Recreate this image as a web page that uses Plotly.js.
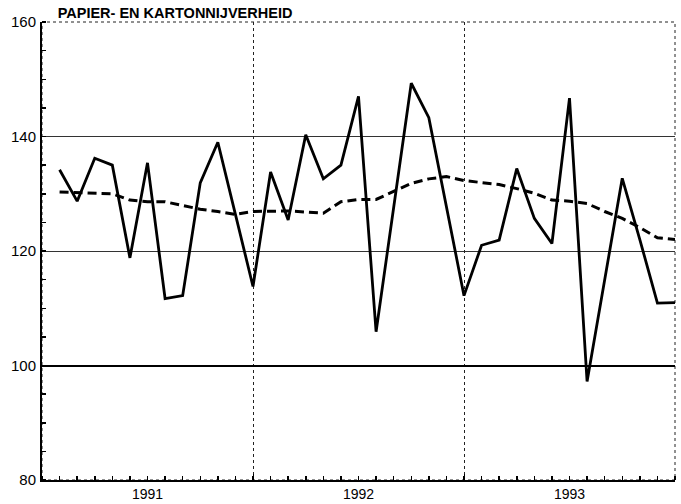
<!DOCTYPE html>
<html>
<head>
<meta charset="utf-8">
<script src="https://cdn.plot.ly/plotly-3.0.1.min.js"></script>
<style>
  html, body { margin: 0; padding: 0; background: #fff; }
  #plot { width: 681px; height: 504px; }
</style>
</head>
<body>
<div id="plot"></div>
<script>
// months 1..36 (jan 1991 .. dec 1993)
var months = [];
for (var m = 1; m <= 36; m++) months.push(m);

// index, papier- en kartonnijverheid
var actual = [134.2, 128.7, 136.2, 135.0, 118.8, 135.4, 111.7, 112.2, 131.9, 139.0, 126.4, 113.8,
              133.8, 125.4, 140.3, 132.6, 135.0, 147.0, 105.9, 127.6, 149.3, 143.3, 128.0, 112.2,
              121.0, 121.9, 134.4, 125.7, 121.3, 146.7, 97.2, 115.0, 132.7, 122.0, 110.9, 111.0];

// trend
var trend = [130.3, 130.2, 130.0, 130.0, 128.9, 128.6, 128.6, 128.0, 127.3, 126.9, 126.4, 126.9,
             127.0, 127.0, 126.8, 126.6, 128.6, 129.0, 129.0, 130.4, 131.8, 132.6, 133.0, 132.3,
             131.9, 131.6, 130.9, 130.1, 128.9, 128.7, 128.3, 126.9, 125.7, 124.1, 122.3, 122.0];

var yearLabels = ['1991', '1992', '1993'];
var yearCenters = [6, 18, 30];
var yearBounds = [0, 12, 24, 36];
var baseline = [100];

var trace1 = {
  x: months,
  y: trend,
  mode: 'lines',
  type: 'scatter',
  line: { color: '#000', width: 3, dash: '9px,5px' },
  hoverinfo: 'skip'
};

var trace2 = {
  x: months,
  y: actual,
  mode: 'lines',
  type: 'scatter',
  line: { color: '#000', width: 2.8 },
  hoverinfo: 'skip'
};

// empty trace so the secondary axes (year gridlines, 100 line) get drawn
var trace3 = { x: [], y: [], xaxis: 'x2', yaxis: 'y2', type: 'scatter', hoverinfo: 'skip' };

var data = [trace1, trace2, trace3];

var layout = {
  width: 681,
  height: 504,
  margin: { l: 42, r: 6, t: 22, b: 24 },
  paper_bgcolor: '#fff',
  plot_bgcolor: '#fff',
  showlegend: false,
  font: { family: 'Liberation Sans, Arial, sans-serif', color: '#000', size: 14 },
  title: {
    text: 'PAPIER- EN KARTONNIJVERHEID',
    xref: 'container', x: 0.257, xanchor: 'center',
    yref: 'container', y: 0.975, yanchor: 'middle',
    font: { size: 14.5, weight: 700, family: 'Liberation Sans, Arial, sans-serif', color: '#000' }
  },
  xaxis: {
    range: [0, 36],
    tickvals: yearCenters,
    ticktext: yearLabels,
    ticks: '',
    showgrid: false,
    zeroline: false,
    showline: true,
    linecolor: '#000',
    linewidth: 2,
    tickfont: { size: 14 },
    ticklabelstandoff: 0,
    minor: { dtick: 1, tick0: 0, ticks: 'inside', ticklen: 4, tickwidth: 1.5, tickcolor: '#000', showgrid: false }
  },
  xaxis2: {
    overlaying: 'x',
    anchor: 'y',
    range: [0, 36],
    tickvals: yearBounds,
    showticklabels: false,
    ticks: 'inside',
    ticklen: 6,
    tickcolor: '#000',
    showgrid: true,
    gridcolor: '#222',
    griddash: 'dot',
    gridwidth: 1,
    zeroline: false
  },
  yaxis: {
    range: [80, 160],
    tickvals: [80, 100, 120, 140, 160],
    ticks: '',
    showgrid: true,
    gridcolor: '#333',
    gridwidth: 1,
    zeroline: false,
    showline: true,
    linecolor: '#000',
    linewidth: 2,
    tickfont: { size: 15 },
    ticklabelstandoff: 1,
    minor: { dtick: 5, tick0: 80, ticks: 'inside', ticklen: 4, tickwidth: 1.5, tickcolor: '#000', showgrid: false }
  },
  yaxis2: {
    overlaying: 'y',
    anchor: 'x',
    range: [80, 160],
    tickvals: baseline,
    showticklabels: false,
    ticks: '',
    showgrid: true,
    gridcolor: '#000',
    gridwidth: 2,
    zeroline: false
  },
  shapes: [{
    // dotted frame on top and right of the plot area
    type: 'rect', xref: 'paper', yref: 'paper',
    x0: 0, x1: 1, y0: 0, y1: 1,
    line: { color: '#222', width: 1, dash: 'dot' },
    layer: 'below'
  }]
};

Plotly.newPlot('plot', data, layout, { staticPlot: true });
</script>
</body>
</html>
